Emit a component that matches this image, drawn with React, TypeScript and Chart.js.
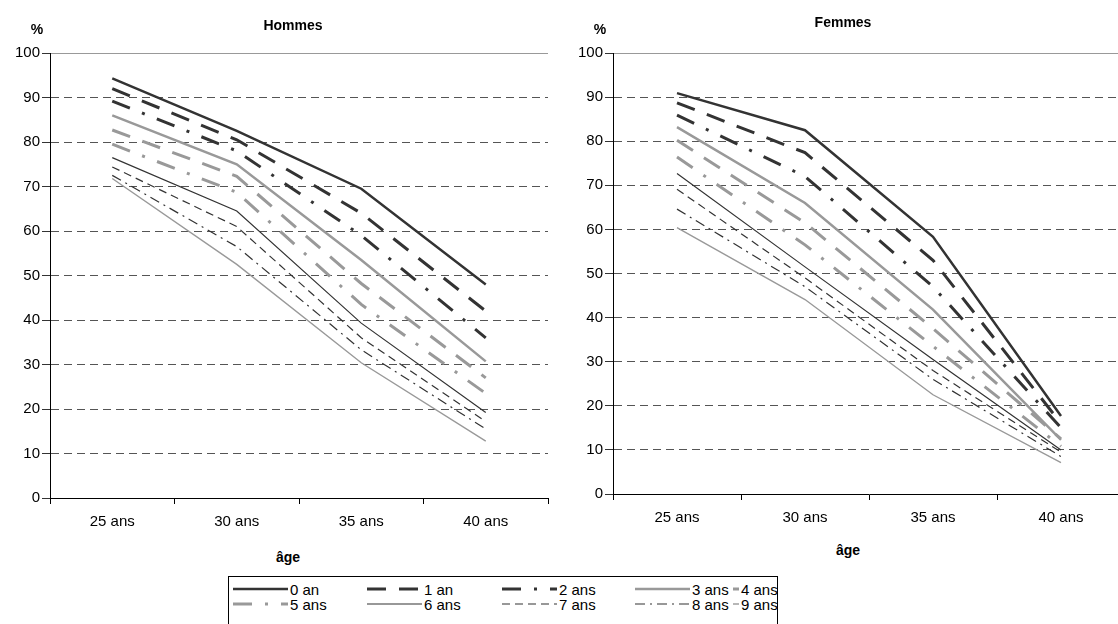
import React, { useEffect, useRef } from "react";
import { Chart, registerables } from "chart.js";

Chart.register(...registerables);

// ---------- data ----------
const categories = ["25 ans", "30 ans", "35 ans", "40 ans"];
const seriesNames = ["0 an", "1 an", "2 ans", "3 ans", "4 ans", "5 ans", "6 ans", "7 ans", "8 ans", "9 ans"];
const yTicks = [0, 10, 20, 30, 40, 50, 60, 70, 80, 90, 100];

const hommes0 = [94.3, 82.5, 69.5, 48];
const hommes1 = [92, 80.5, 64, 42];
const hommes2 = [89.2, 78, 59, 36];
const hommes3 = [86, 75, 53.5, 30.7];
const hommes4 = [82.7, 72.3, 48.2, 27];
const hommes5 = [79.5, 68.7, 43.5, 23.5];
const hommes6 = [76.5, 64.5, 39.3, 19.2];
const hommes7 = [74.4, 61, 36, 17.2];
const hommes8 = [72.5, 56.5, 33.3, 15.5];
const hommes9 = [71.8, 52.5, 30.4, 12.8];

const femmes0 = [90.9, 82.5, 58.3, 17.7];
const femmes1 = [88.7, 77.4, 53, 16];
const femmes2 = [85.9, 72, 47, 15];
const femmes3 = [83.2, 66, 41.8, 12.3];
const femmes4 = [80.2, 61.5, 37.5, 12.5];
const femmes5 = [76.4, 56.5, 33.5, 10.8];
const femmes6 = [72.7, 51.5, 30.5, 10];
const femmes7 = [69.1, 49, 28, 9.5];
const femmes8 = [64.6, 47, 26, 8.5];
const femmes9 = [60.4, 44.1, 22.5, 7.1];

const hommesSeries = [hommes0, hommes1, hommes2, hommes3, hommes4, hommes5, hommes6, hommes7, hommes8, hommes9];
const femmesSeries = [femmes0, femmes1, femmes2, femmes3, femmes4, femmes5, femmes6, femmes7, femmes8, femmes9];

// ---------- styles ----------
const DARK = "#333333";
const GRAY = "#999999";
const seriesStyles = [
  { color: DARK, width: 2.5, dash: [] as number[] },
  { color: DARK, width: 3, dash: [19, 13] },
  { color: DARK, width: 3, dash: [19, 13, 3, 13] },
  { color: GRAY, width: 2.5, dash: [] as number[] },
  { color: GRAY, width: 3, dash: [19, 13] },
  { color: GRAY, width: 3, dash: [19, 13, 3, 13] },
  { color: DARK, width: 1.2, dash: [] as number[] },
  { color: DARK, width: 1.2, dash: [8, 5] },
  { color: DARK, width: 1.2, dash: [10, 5, 2, 5] },
  { color: GRAY, width: 1.4, dash: [] as number[] },
];

const FONT = "'Liberation Sans', Arial, sans-serif";
const TICK_SIZE = 15;

type PanelCfg = {
  values: number[][];
  yAxisWidth: number;
  xAxisHeight: number;
  padRight: number;
  width: number;
  height: number;
};

function Panel({ cfg, left }: { cfg: PanelCfg; left: number }) {
  const ref = useRef<HTMLCanvasElement | null>(null);
  useEffect(() => {
    if (!ref.current) return;
    const chart = new Chart(ref.current, {
      type: "line",
      data: {
        labels: categories,
        datasets: cfg.values.map((vals, i) => ({
          label: seriesNames[i],
          data: vals,
          borderColor: seriesStyles[i].color,
          borderWidth: seriesStyles[i].width,
          borderDash: seriesStyles[i].dash,
          pointRadius: 0,
          tension: 0,
          fill: false,
          borderCapStyle: "butt" as const,
          borderJoinStyle: "miter" as const,
        })),
      },
      options: {
        responsive: false,
        animation: false,
        devicePixelRatio: 1,
        layout: { padding: { top: 53, right: cfg.padRight, left: 0, bottom: 0 } },
        plugins: { legend: { display: false }, tooltip: { enabled: false }, title: { display: false } },
        scales: {
          x: {
            type: "category",
            offset: true,
            grid: {
              offset: true,
              drawOnChartArea: false,
              drawTicks: true,
              tickLength: 6,
              tickColor: "#000",
            },
            border: { display: true, color: "#000", width: 1 },
            ticks: { color: "#000", font: { family: FONT, size: TICK_SIZE }, padding: 9, maxRotation: 0 },
            afterFit: (s: any) => {
              s.height = cfg.xAxisHeight;
            },
          },
          y: {
            min: 0,
            max: 100,
            afterBuildTicks: (s: any) => {
              s.ticks = yTicks.map((v) => ({ value: v }));
            },
            ticks: { color: "#000", font: { family: FONT, size: TICK_SIZE }, padding: 2 },
            grid: {
              color: (c: any) => (c.tick && c.tick.value === 100 ? "#999999" : "#555555"),
              lineWidth: 1,
              drawTicks: true,
              tickLength: 8,
              tickColor: "#333",
            },
            border: {
              display: true,
              color: "#000",
              width: 1,
              dash: (c: any) => (c.tick && c.tick.value !== 100 ? [8, 5] : []),
            },
            afterFit: (s: any) => {
              s.width = cfg.yAxisWidth;
            },
          },
        },
      },
    } as any);
    return () => chart.destroy();
  }, [cfg]);
  return (
    <canvas
      ref={ref}
      width={cfg.width}
      height={cfg.height}
      style={{ position: "absolute", left, top: 0, width: cfg.width, height: cfg.height }}
    />
  );
}

const leftCfg: PanelCfg = { values: hommesSeries, yAxisWidth: 50, xAxisHeight: 42, padRight: 12, width: 560, height: 540 };
const rightCfg: PanelCfg = { values: femmesSeries, yAxisWidth: 53, xAxisHeight: 46, padRight: 15, width: 580, height: 540 };

function Label({ x, y, text, size = 14, bold = true }: { x: number; y: number; text: string; size?: number; bold?: boolean }) {
  return (
    <div
      style={{
        position: "absolute",
        left: x,
        top: y,
        transform: "translate(-50%, -50%)",
        fontFamily: FONT,
        fontSize: size,
        fontWeight: bold ? "bold" : "normal",
        color: "#000",
        whiteSpace: "nowrap",
        lineHeight: 1,
      }}
    >
      {text}
    </div>
  );
}

const legendSampleX = [233, 367, 502, 635, 733];
const legendSampleW = [55, 55, 55, 55, 6];
const legendRows = [589, 603.5];

function LegendSample({ idx, x, y, w }: { idx: number; x: number; y: number; w: number }) {
  const st = seriesStyles[idx];
  return (
    <svg style={{ position: "absolute", left: x, top: y - 4 }} width={w} height={8}>
      <line
        x1={0}
        y1={4}
        x2={w}
        y2={4}
        stroke={st.color}
        strokeWidth={st.width}
        strokeDasharray={st.dash.length ? st.dash.join(" ") : undefined}
      />
    </svg>
  );
}

export default function App() {
  return (
    <div style={{ position: "fixed", left: 0, top: 0, width: 1118, height: 624, overflow: "hidden", background: "#fff" }}>
      <Panel cfg={leftCfg} left={0} />
      <Panel cfg={rightCfg} left={560} />
      <Label x={293} y={25} text="Hommes" />
      <Label x={843} y={22} text="Femmes" />
      <Label x={37} y={29} text="%" />
      <Label x={600} y={29} text="%" />
      <Label x={288} y={557} text="âge" />
      <Label x={848} y={550} text="âge" />
      <div
        style={{
          position: "absolute",
          left: 228,
          top: 576,
          width: 550,
          height: 60,
          border: "1px solid #000",
          boxSizing: "border-box",
        }}
      />
      {seriesNames.map((name, i) => {
        const col = i % 5;
        const row = Math.floor(i / 5);
        const sx = legendSampleX[col];
        const w = legendSampleW[col];
        return (
          <React.Fragment key={name}>
            <LegendSample idx={i} x={sx} y={legendRows[row]} w={w} />
            <div
              style={{
                position: "absolute",
                left: col === 4 ? 741 : sx + w + 2,
                top: legendRows[row],
                transform: "translateY(-50%)",
                fontFamily: FONT,
                fontSize: 15,
                lineHeight: 1,
                whiteSpace: "nowrap",
                color: "#000",
              }}
            >
              {name}
            </div>
          </React.Fragment>
        );
      })}
    </div>
  );
}
